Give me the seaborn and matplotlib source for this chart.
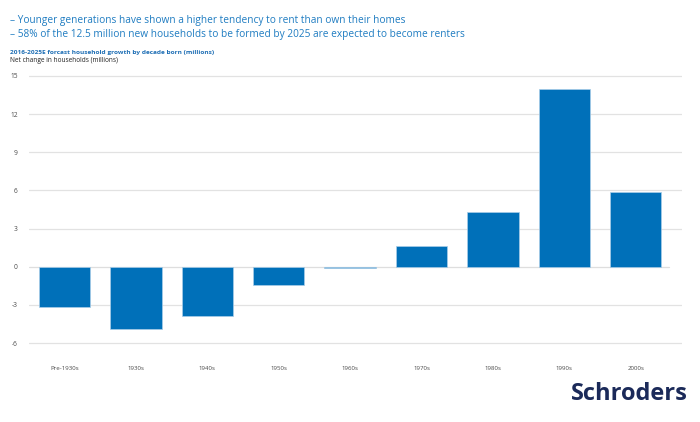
import matplotlib
matplotlib.use("Agg")
import matplotlib.pyplot as plt
import seaborn as sns
import pandas as pd

decades = ["Pre-1930s", "1930s", "1940s", "1950s", "1960s", "1970s", "1980s", "1990s", "2000s"]
net_change = [-3.15, -4.9, -3.85, -1.4, -0.1, 1.6, 4.3, 14.0, 5.85]
y_ticks = [-6, -3, 0, 3, 6, 9, 12, 15]

df = pd.DataFrame({"decade": decades, "value": net_change})

sns.set_theme(style="white")
plt.rcParams["font.family"] = ["Open Sans", "DejaVu Sans"]

fig = plt.figure(figsize=(7, 4.22), dpi=100)
ax = fig.add_axes([29/700, 1-347/422, (682-29)/700, (347-72)/422])

bar_color = "#0070b9"
sns.barplot(data=df, x="decade", y="value", color=bar_color, width=0.72,
            saturation=1, edgecolor="#a9cde8", linewidth=0.5, ax=ax, zorder=3)

ax.set_ylim(-6.3, 15.3)
ax.set_xlim(-0.5, 8.65)
ax.set_yticks(y_ticks)
ax.set_yticklabels([str(t) for t in y_ticks])
for t in y_ticks:
    if t == 0:
        ax.axhline(t, xmin=0, xmax=(8.47 + 0.5) / 9.15, color="#dedede", lw=0.9, zorder=1)
    else:
        ax.axhline(t, color="#e2e2e2", lw=0.9, zorder=1)
for s in ax.spines.values():
    s.set_visible(False)
ax.set_xlabel("")
ax.set_ylabel("")
ax.tick_params(axis="y", length=0, pad=8, labelsize=4.8, labelcolor="#4a4a4a")
ax.tick_params(axis="x", length=0, pad=14, labelsize=4.4, labelcolor="#4a4a4a")
for lab in ax.get_yticklabels():
    lab.set_horizontalalignment("right")

title_color = "#1f7cc1"
fig.text(10/700, 1-20/422, "– Younger generations have shown a higher tendency to rent than own their homes",
         color=title_color, fontsize=7.32, va="center", ha="left")
fig.text(10/700, 1-34/422, "– 58% of the 12.5 million new households to be formed by 2025 are expected to become renters",
         color=title_color, fontsize=7.32, va="center", ha="left")
fig.text(10/700, 1-52.5/422, "2016-2025E forcast household growth by decade born (millions)",
         color="#1f6fb5", fontsize=4.65, fontweight="bold", va="center", ha="left")
fig.text(10/700, 1-61/422, "Net change in households (millions)",
         color="#222222", fontsize=4.7, va="center", ha="left")

fig.text(688/700, 1-394/422, "Schroders", color="#1b2a59", fontsize=17,
         fontweight="bold", va="center", ha="right", family=["Open Sans", "DejaVu Sans"])

fig.savefig("out.png", dpi=100)
